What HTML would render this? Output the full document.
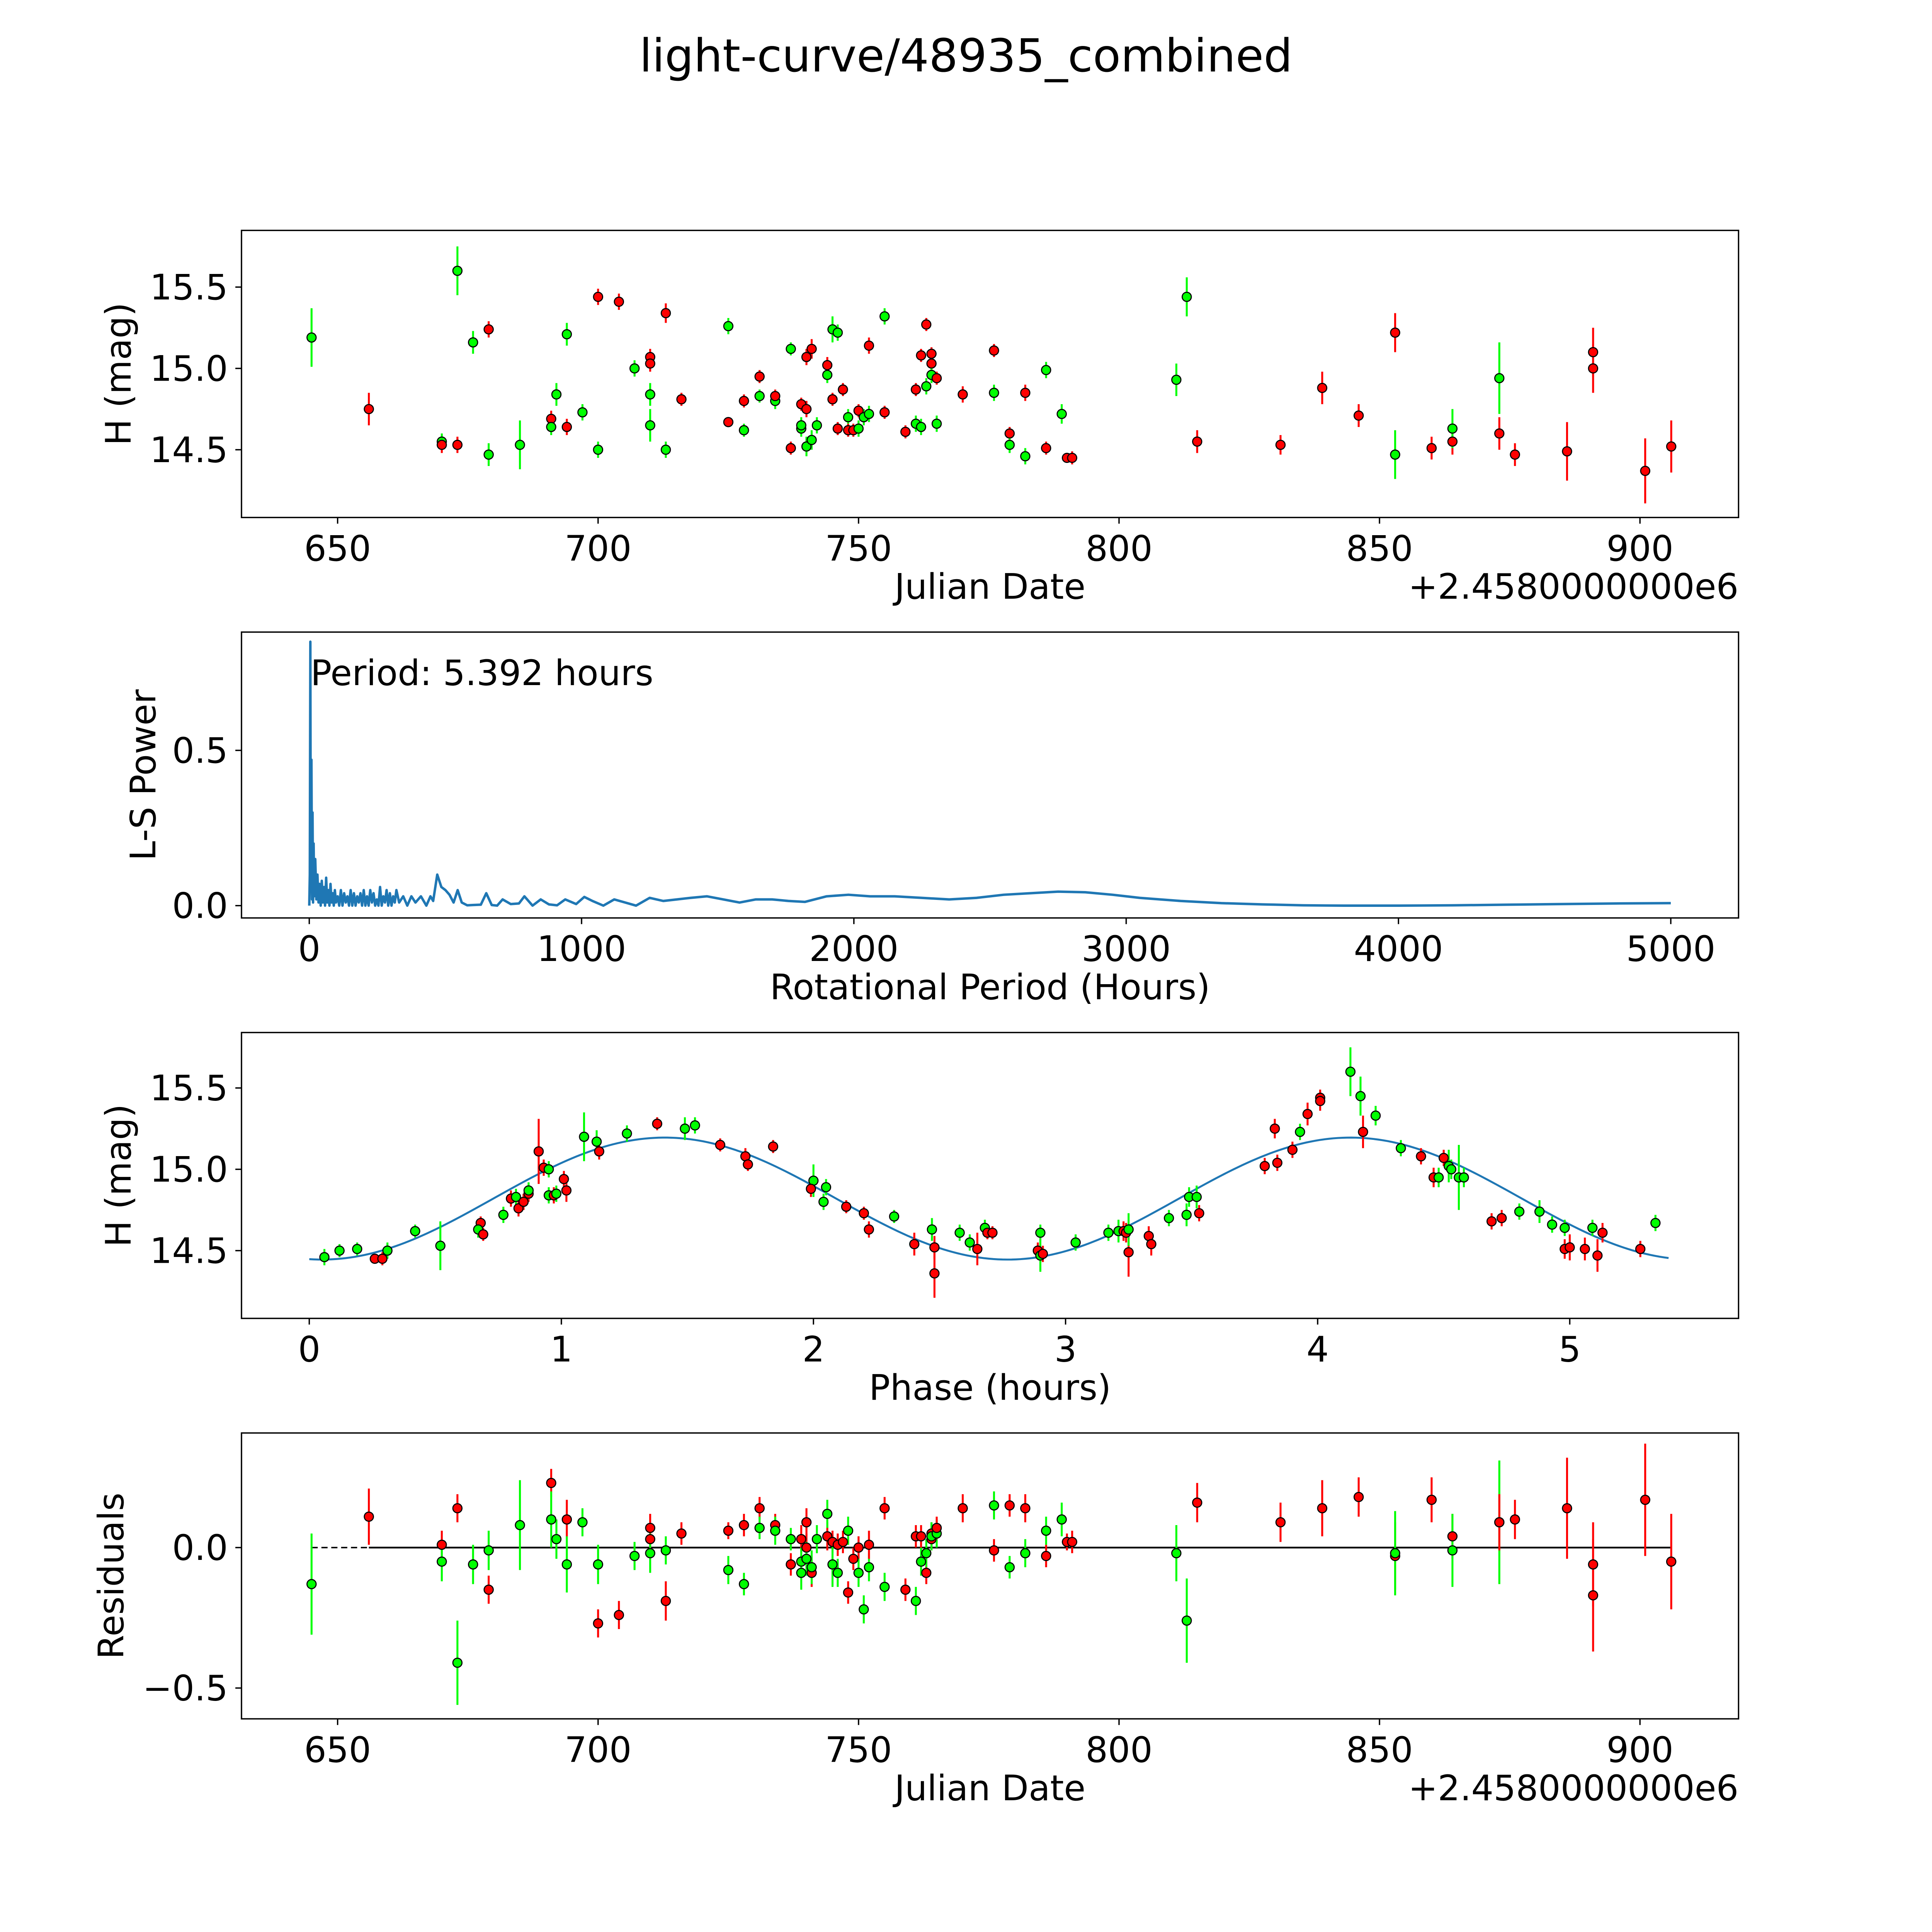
<!DOCTYPE html>
<html><head><meta charset="utf-8"><style>
html,body{margin:0;padding:0;background:#fff;width:100%;height:100%;overflow:hidden;}
svg{display:block;font-family:"DejaVu Sans","Liberation Sans",sans-serif;}
</style></head><body>
<svg id="fig" width="100%" height="100%" style="width:100vw;height:100vh" viewBox="0 0 1568 1568" preserveAspectRatio="none" xmlns="http://www.w3.org/2000/svg">
<rect width="1568" height="1568" fill="#fff"/>
<text x="784" y="58" font-size="37" text-anchor="middle">light-curve/48935_combined</text>
<g id="g1"></g><g id="g2"></g><g id="g3"></g><g id="g4"></g>
</svg>
<script>
// ---- data ----
const obsDate=[645,656,670,670,673,673,676,679,679,685,691,691,692,694,694,697,700,700,704,707,710,710,710,710,713,713,716,725,725,728,728,731,731,734,734,737,737,739,739,739,740,740,740,741,741,742,744,744,745,745,746,746,747,748,748,749,750,750,751,752,752,755,755,759,761,761,762,762,763,763,764,764,764,765,765,770,776,776,779,779,782,782,786,786,789,790,791,811,813,815,831,839,846,853,853,860,864,864,873,873,876,886,891,891,901,906];
const obsMag=[15.19,14.75,14.55,14.53,15.6,14.53,15.16,15.24,14.47,14.53,14.69,14.64,14.84,14.64,15.21,14.73,14.5,15.44,15.41,15.0,15.07,15.03,14.84,14.65,15.34,14.5,14.81,14.67,15.26,14.8,14.62,14.95,14.83,14.8,14.83,14.51,15.12,14.78,14.63,14.65,14.75,15.07,14.52,15.12,14.56,14.65,15.02,14.96,14.81,15.24,15.22,14.63,14.87,14.7,14.62,14.62,14.63,14.74,14.7,14.72,15.14,15.32,14.73,14.61,14.87,14.66,14.64,15.08,15.27,14.89,15.09,15.03,14.96,14.66,14.94,14.84,15.11,14.85,14.6,14.53,14.46,14.85,14.51,14.99,14.72,14.45,14.45,14.93,15.44,14.55,14.53,14.88,14.71,15.22,14.47,14.51,14.55,14.63,14.94,14.6,14.47,14.49,15.1,15.0,14.37,14.52];
const obsErr=[0.18,0.1,0.05,0.05,0.15,0.05,0.07,0.05,0.07,0.15,0.05,0.05,0.07,0.05,0.07,0.05,0.05,0.05,0.05,0.05,0.05,0.05,0.07,0.1,0.06,0.05,0.04,0.03,0.05,0.04,0.04,0.04,0.04,0.05,0.04,0.04,0.04,0.04,0.05,0.05,0.05,0.05,0.06,0.06,0.06,0.05,0.05,0.05,0.04,0.08,0.05,0.04,0.04,0.05,0.04,0.04,0.05,0.04,0.05,0.05,0.05,0.05,0.04,0.04,0.04,0.05,0.05,0.04,0.04,0.05,0.04,0.04,0.05,0.05,0.04,0.05,0.04,0.05,0.04,0.05,0.05,0.05,0.04,0.05,0.06,0.03,0.04,0.1,0.12,0.07,0.06,0.1,0.07,0.12,0.15,0.07,0.08,0.12,0.22,0.1,0.07,0.18,0.15,0.15,0.2,0.16];
const obsBand=("grgrgrgrgg"+"rggrgggrrg"+"rrggrgrrgr"+"grggrrgrgg"+"rrgrggrgrg"+"grrgrrgrgg"+"rgrrrggrrg"+"rrggrrrgrg"+"grrggrrggr"+"rrrrgrrggr"+"rrrrrr").split("");

const phaseVal=[0.06,0.12,0.19,0.26,0.29,0.31,0.42,0.52,0.68,0.67,0.69,0.77,0.8,0.82,0.83,0.85,0.87,0.87,0.91,0.93,0.95,0.95,0.97,0.98,1.01,1.02,1.09,1.14,1.15,1.26,1.38,1.49,1.53,1.63,1.73,1.74,1.84,2.0,1.99,2.05,2.04,2.13,2.2,2.22,2.32,2.4,2.47,2.48,2.48,2.58,2.62,2.65,2.68,2.69,2.71,2.9,2.89,2.9,2.91,3.04,3.17,3.21,3.23,3.24,3.25,3.25,3.33,3.34,3.41,3.48,3.49,3.52,3.53,3.79,3.84,3.83,3.93,3.9,3.96,4.01,4.01,4.13,4.17,4.18,4.23,4.33,4.41,4.46,4.48,4.5,4.52,4.53,4.56,4.58,4.69,4.73,4.8,4.88,4.93,4.98,4.98,5.0,5.06,5.09,5.11,5.13,5.28,5.34];
const phaseMag=[14.46,14.5,14.51,14.45,14.45,14.5,14.62,14.53,14.67,14.63,14.6,14.72,14.82,14.83,14.76,14.8,14.85,14.87,15.11,15.01,15.0,14.84,14.84,14.85,14.94,14.87,15.2,15.17,15.11,15.22,15.28,15.25,15.27,15.15,15.08,15.03,15.14,14.93,14.88,14.89,14.8,14.77,14.73,14.63,14.71,14.54,14.63,14.52,14.36,14.61,14.55,14.51,14.64,14.61,14.61,14.61,14.5,14.47,14.48,14.55,14.61,14.62,14.62,14.61,14.49,14.63,14.59,14.54,14.7,14.72,14.83,14.83,14.73,15.02,15.04,15.25,15.23,15.12,15.34,15.44,15.42,15.6,15.45,15.23,15.33,15.13,15.08,14.95,14.95,15.07,15.02,15.0,14.95,14.95,14.68,14.7,14.74,14.74,14.66,14.64,14.51,14.52,14.51,14.64,14.47,14.61,14.51,14.67];
const phaseErr=[0.05,0.04,0.04,0.03,0.04,0.05,0.04,0.15,0.04,0.05,0.04,0.05,0.05,0.05,0.05,0.05,0.05,0.05,0.2,0.05,0.05,0.05,0.05,0.05,0.05,0.07,0.15,0.07,0.05,0.05,0.04,0.07,0.05,0.04,0.05,0.04,0.04,0.1,0.05,0.05,0.05,0.04,0.04,0.05,0.04,0.07,0.07,0.07,0.15,0.05,0.05,0.1,0.05,0.04,0.04,0.05,0.05,0.1,0.05,0.05,0.05,0.07,0.06,0.06,0.15,0.1,0.06,0.07,0.05,0.07,0.06,0.07,0.05,0.05,0.05,0.06,0.05,0.05,0.07,0.05,0.06,0.15,0.12,0.1,0.06,0.05,0.05,0.06,0.06,0.05,0.1,0.06,0.2,0.06,0.05,0.05,0.05,0.07,0.05,0.05,0.06,0.08,0.07,0.05,0.1,0.06,0.05,0.05];
const phaseBand=("gggrrgggrg"+"rgrgrrrgrr"+"ggrgrrggrg"+"rggrrrrgrg"+"grrrgrgrrg"+"grgrrgrgrg"+"ggrrrgrrgg"+"ggrrrrgrrr"+"rggrggrrgr"+"ggggrrgggg"+"rrrgrrrg").split("");
const modelParams=[14.82,0.375,0.05,2.72]; // mean, amplitude, phase offset, half-period

const lsPeriod=[0,2,4,5,6,8,10,12,14,16,18,22,26,30,34,38,42,46,50,54,58,62,66,70,74,78,82,86,90,94,98,104,110,116,122,128,134,140,146,152,158,164,170,176,182,188,194,200,206,212,218,224,230,236,242,248,254,260,266,272,278,284,290,296,302,308,314,320,330,345,360,375,390,410,430,445,455,470,485,500,515,530,545,560,580,600,630,650,670,690,710,740,770,790,820,850,880,910,940,980,1010,1040,1080,1120,1160,1200,1250,1300,1350,1400,1460,1520,1580,1640,1700,1760,1820,1900,1980,2060,2150,2250,2350,2450,2550,2650,2750,2850,2950,3050,3200,3350,3500,3650,3800,4000,4200,4400,4600,4800,5000];
const lsPower=[0,0.1,0.85,0.3,0.05,0.47,0.02,0.3,0.01,0.2,0.03,0.15,0.02,0.1,0.01,0.07,0.0,0.08,0.01,0.06,0.0,0.09,0.01,0.05,0.0,0.07,0.01,0.04,0.0,0.05,0.01,0.03,0.0,0.05,0.0,0.04,0.01,0.03,0.0,0.05,0.0,0.04,0.0,0.03,0.01,0.04,0.0,0.05,0.0,0.03,0.0,0.05,0.01,0.04,0.0,0.02,0.0,0.06,0.0,0.03,0.01,0.05,0.0,0.04,0.0,0.03,0.01,0.05,0.01,0.03,0.0,0.03,0.01,0.03,0.0,0.03,0.015,0.1,0.06,0.05,0.035,0.01,0.05,0.01,0.001,0.002,0.003,0.04,0.002,0.0,0.02,0.005,0.007,0.03,0.0,0.02,0.004,0.001,0.02,0.005,0.028,0.015,0.0,0.02,0.01,0.0,0.025,0.015,0.02,0.025,0.03,0.02,0.01,0.02,0.02,0.015,0.012,0.03,0.035,0.03,0.03,0.025,0.02,0.025,0.035,0.04,0.045,0.043,0.035,0.025,0.015,0.008,0.004,0.001,0.0,0.0,0.001,0.003,0.005,0.007,0.008];

const resDate=[645,656,670,670,673,673,676,679,679,685,691,691,692,694,694,697,700,700,704,707,710,710,710,713,713,716,725,725,728,728,731,731,734,734,737,737,739,739,739,740,740,740,741,741,742,744,744,745,745,746,746,747,748,748,749,750,750,751,752,752,755,755,759,761,761,762,762,763,763,764,764,764,765,765,770,776,776,779,779,782,782,786,786,789,790,791,811,813,815,831,839,846,853,853,860,864,864,873,873,876,886,891,891,901,906];
const resVal=[-0.13,0.11,0.01,-0.05,0.14,-0.41,-0.06,-0.15,-0.01,0.08,0.23,0.1,0.03,0.1,-0.06,0.09,-0.27,-0.06,-0.24,-0.03,0.07,0.03,-0.02,-0.19,-0.01,0.05,0.06,-0.08,0.08,-0.13,0.14,0.07,0.08,0.06,-0.06,0.03,0.03,-0.05,-0.09,0.0,0.09,-0.04,-0.09,-0.07,0.03,0.04,0.12,0.02,-0.06,-0.09,0.01,0.02,0.06,-0.16,-0.04,-0.09,0.0,-0.22,-0.07,0.01,-0.14,0.14,-0.15,0.04,-0.19,-0.05,0.04,-0.09,-0.02,0.05,0.03,0.04,0.05,0.07,0.14,-0.01,0.15,0.15,-0.07,-0.02,0.14,-0.03,0.06,0.1,0.02,0.02,-0.02,-0.26,0.16,0.09,0.14,0.18,-0.03,-0.02,0.17,0.04,-0.01,0.09,0.09,0.1,0.14,-0.06,-0.17,0.17,-0.05];
const resErr=[0.18,0.1,0.05,0.07,0.05,0.15,0.07,0.05,0.07,0.16,0.05,0.1,0.07,0.07,0.1,0.05,0.05,0.07,0.05,0.05,0.05,0.05,0.07,0.07,0.05,0.04,0.03,0.05,0.04,0.04,0.04,0.04,0.04,0.05,0.04,0.04,0.05,0.05,0.06,0.05,0.05,0.06,0.05,0.06,0.05,0.05,0.05,0.04,0.08,0.05,0.04,0.04,0.05,0.04,0.04,0.05,0.04,0.05,0.05,0.05,0.05,0.04,0.04,0.04,0.05,0.05,0.04,0.04,0.05,0.04,0.04,0.05,0.05,0.04,0.05,0.04,0.05,0.04,0.04,0.05,0.05,0.04,0.05,0.06,0.03,0.04,0.1,0.15,0.07,0.07,0.1,0.07,0.12,0.15,0.08,0.08,0.13,0.22,0.1,0.07,0.18,0.15,0.2,0.2,0.17];
const resBand=("grrgrggrgg"+"rggrggrgrg"+"rrgrgrrgrg"+"rgrgrgrggr"+"rgrggrgrgg"+"rrgrrgrggr"+"grrrggrrgr"+"rggrrrgrgg"+"rrggrrggrr"+"rrrgrrggrr"+"rrrrr").split("");

const xTicksDate=[650,700,750,800,850,900];
const yTicksMag=[14.5,15.0,15.5];
const xTicksLS=[0,1000,2000,3000,4000,5000];
const yTicksLS=[0.0,0.5];
const xTicksPhase=[0,1,2,3,4,5];
const yTicksRes=[-0.5,0.0];

// ---- helpers ----
const NS="http://www.w3.org/2000/svg";
function mk(parent,tag,attrs,txt){const e=document.createElementNS(NS,tag);for(const k in attrs)e.setAttribute(k,attrs[k]);if(txt!==undefined)e.textContent=txt;parent.appendChild(e);return e;}
function scale(d0,d1,p0,p1){return v=>p0+(v-d0)/(d1-d0)*(p1-p0);}
function fmt(v,dec){return (v<0?"\u2212":"")+Math.abs(v).toFixed(dec);}

function axes(g,box,xs,ys,xt,yt,xdec,ydec,xlabel,ylabel,offset,ylabX){
  const fr=mk(g,'rect',{x:box[0],y:box[1],width:box[2]-box[0],height:box[3]-box[1],fill:'none',stroke:'#000','stroke-width':1.1});
  
  xt.forEach(v=>{const x=xs(v);mk(g,'line',{x1:x,x2:x,y1:box[3],y2:box[3]+5,stroke:'#000','stroke-width':1.1});
    const t=mk(g,'text',{x:x,y:box[3]+35,'font-size':28.5,'text-anchor':'middle'},fmt(v,xdec));
    });
  yt.forEach(v=>{const y=ys(v);mk(g,'line',{x1:box[0]-5,x2:box[0],y1:y,y2:y,stroke:'#000','stroke-width':1.1});
    const t=mk(g,'text',{x:box[0]-11,y:y+10,'font-size':28.5,'text-anchor':'end'},fmt(v,ydec));
    });
  const xl=mk(g,'text',{x:(box[0]+box[2])/2,y:box[3]+66,'font-size':28.5,'text-anchor':'middle'},xlabel);
  
  const yx=ylabX, yy=(box[1]+box[3])/2;
  const yl=mk(g,'text',{x:yx,y:yy,'font-size':28.5,'text-anchor':'middle',transform:`rotate(-90 ${yx} ${yy})`},ylabel);
  
  if(offset){const o=mk(g,'text',{x:box[2],y:box[3]+66,'font-size':28.5,'text-anchor':'end'},'+2.4580000000e6');
    }
}
function points(g,xsArr,ysArr,es,bands,xs,ys,name){
  for(let i=0;i<xsArr.length;i++){
    const c=bands[i]==='g'?'#00ff00':'#ff0000';const x=xs(xsArr[i]);
    const eb=mk(g,'line',{x1:x,x2:x,y1:ys(ysArr[i]-es[i]),y2:ys(ysArr[i]+es[i]),stroke:c,'stroke-width':1.6});
    
  }
  for(let i=0;i<xsArr.length;i++){
    const c=bands[i]==='g'?'#00ff00':'#ff0000';
    const p=mk(g,'circle',{cx:xs(xsArr[i]),cy:ys(ysArr[i]),r:3.7,fill:c,stroke:'#000','stroke-width':0.9});
    
  }
}

// panel 1
(function(){const g=document.getElementById('g1');const box=[196,187,1411,420];
 const xs=scale(650,900,274,1331), ys=scale(14.5,15.5,365,233);
 axes(g,box,xs,ys,xTicksDate,yTicksMag,0,1,'Julian Date','H (mag)',true,106);
 points(g,obsDate,obsMag,obsErr,obsBand,xs,ys,'observation');})();

// panel 2
(function(){const g=document.getElementById('g2');const box=[196,513,1411,745];
 const xs=scale(0,5000,251,1356), ys=scale(0,0.5,735,609);
 axes(g,box,xs,ys,xTicksLS,yTicksLS,0,1,'Rotational Period (Hours)','L-S Power',false,126);
 const pts=lsPeriod.map((p,i)=>xs(p).toFixed(2)+','+ys(lsPower[i]).toFixed(2)).join(' ');
 const pl=mk(g,'polyline',{points:pts,fill:'none',stroke:'#1f77b4','stroke-width':2,'stroke-linejoin':'round'});
 
 const t=mk(g,'text',{x:252,y:556,'font-size':28.5},'Period: 5.392 hours');
 })();

// panel 3
(function(){const g=document.getElementById('g3');const box=[196,838,1411,1070];
 const xs=scale(0,5,251,1274), ys=scale(14.5,15.5,1015,883);
 axes(g,box,xs,ys,xTicksPhase,yTicksMag,0,1,'Phase (hours)','H (mag)',false,106);
 const [m,a,off,hp]=modelParams;const pts=[];
 for(let i=0;i<=300;i++){const x=5.392*i/300;pts.push(xs(x).toFixed(2)+','+ys(m-a*Math.cos(2*Math.PI*(x-off)/hp)).toFixed(2));}
 const pl=mk(g,'polyline',{points:pts.join(' '),fill:'none',stroke:'#1f77b4','stroke-width':1.6});
 
 points(g,phaseVal,phaseMag,phaseErr,phaseBand,xs,ys,'phased');})();

// panel 4
(function(){const g=document.getElementById('g4');const box=[196,1163,1411,1395];
 const xs=scale(650,900,274,1331), ys=scale(0,-0.5,1256,1370);
 axes(g,box,xs,ys,xTicksDate,yTicksRes,0,1,'Julian Date','Residuals',true,100);
 const d=mk(g,'line',{x1:xs(645),x2:xs(906),y1:ys(0),y2:ys(0),stroke:'#000','stroke-width':1.2,'stroke-dasharray':'5,3'});
 
 const s=mk(g,'line',{x1:xs(656),x2:xs(906),y1:ys(0),y2:ys(0),stroke:'#000','stroke-width':1.4});
 
 points(g,resDate,resVal,resErr,resBand,xs,ys,'residual');})();
</script>
</body></html>
